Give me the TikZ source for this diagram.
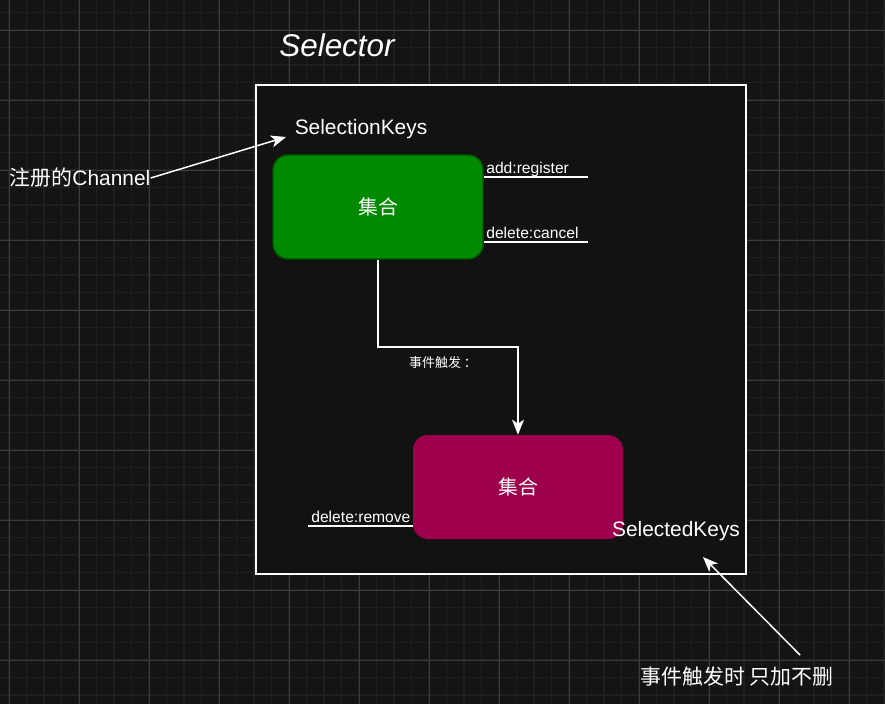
\documentclass[tikz,border=0pt]{standalone}
\usepackage{fontspec}
\setmainfont{Liberation Sans}
\newfontfamily\cjk{Noto Sans CJK SC}
\usepackage{tikz}
\usetikzlibrary{arrows.meta,calc}
\definecolor{pagebg}  {HTML}{141414}
\definecolor{boxbg}   {HTML}{121212}
\definecolor{gridlo}  {HTML}{1F1F1F}
\definecolor{gridhi}  {HTML}{3C3C3C}
\definecolor{setgreen}{HTML}{008A00}
\definecolor{setgrline}{HTML}{005700}
\definecolor{setred}  {HTML}{9E004D}
\tikzset{
  setbox/.style  = {rounded corners=8.5pt, minimum width=4.2cm, minimum height=2.08cm,
                    text=white, font=\cjk\fontsize{11.3}{13}\selectfont, inner sep=0pt},
  caption/.style = {text=white, font=\fontsize{11.9}{14}\selectfont, inner sep=0pt},
  oplbl/.style   = {text=white, font=\fontsize{8.9}{10}\selectfont, inner sep=0pt, anchor=base west},
  uline/.style   = {draw=white, line width=1.1pt},
  flow/.style    = {-{Stealth[length=3mm, width=2.4mm, inset=0.8mm]}, draw=white, line width=0.85pt},
}

\begin{document}
\begin{tikzpicture}[x=0.02cm, y=-0.02cm]
  \useasboundingbox (0,0) rectangle (885,704);
  \fill[pagebg] (0,0) rectangle (885,704);
  % grid
  \foreach \k in {0,...,50} {
    \draw[gridlo, line width=1.1pt] ({9+17.5*\k},0) -- ({9+17.5*\k},704);
  }
  \foreach \k in {0,...,40} {
    \draw[gridlo, line width=1.1pt] (0,{12.5+17.5*\k}) -- (885,{12.5+17.5*\k});
  }
  \foreach \k in {0,...,12} {
    \draw[gridhi, line width=0.5pt] ({9+70*\k},0) -- ({9+70*\k},704);
  }
  \foreach \k in {0,...,9} {
    \draw[gridhi, line width=0.5pt] (0,{30+70*\k}) -- (885,{30+70*\k});
  }

  % selector frame
  \node[text=white, font=\fontsize{17.9}{20}\selectfont\itshape, inner sep=0pt] (title) at (337,45) {Selector};
  \draw[fill=boxbg, draw=white, line width=1.1pt] (256,85) rectangle (746,574);

  \node[caption] (selkeys) at (361,129) {SelectionKeys};

  \node[setbox, fill=setgreen, draw=setgrline, line width=0.8pt] (green) at (378,207) {集合};
  \node[setbox, fill=setred] (red) at (518,487) {集合};
  \node[caption] (seldkeys) at (676,531) {SelectedKeys};

  % operation labels
  \node[oplbl] (addop) at (486,173) {add:register};
  \node[oplbl] (delop) at (486,238) {delete:cancel};
  \node[oplbl] (remop) at (311,522) {delete:remove};
  \draw[uline] (green.east |- 0,177) -- (588,177);
  \draw[uline] (green.east |- 0,242) -- (588,242);
  \draw[uline] (308,526) -- (red.west |- 0,526);

  % event flow
  \coordinate (bend) at (518,347);
  \draw[flow] (green.south) |- (bend) -- (red.north);
  \node[text=white, font=\cjk\fontsize{7.4}{9}\selectfont, inner sep=0pt] (evt) at (443,363) {事件触发 ：};

  % outside notes
  \node[caption] (chan) at (80,178) {{\cjk 注册的}Channel};
  \coordinate (chanhit) at (286,137);
  \draw[flow] (chan.east) -- (chanhit);

  \node[caption] (note) at (737,677) {\cjk 事件触发时 只加不删};
  \coordinate (notefrom) at (800,655);
  \coordinate (notehit) at (703,557);
  \draw[flow] (notefrom) -- (notehit);
\end{tikzpicture}
\end{document}
